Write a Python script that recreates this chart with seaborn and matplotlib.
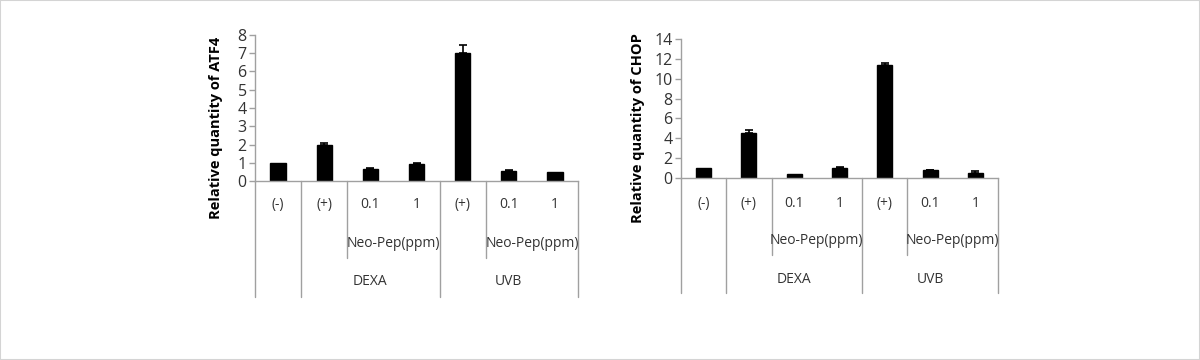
import numpy as np
import pandas as pd
import seaborn as sns
import matplotlib
matplotlib.use("Agg")
import matplotlib.pyplot as plt
import matplotlib.transforms as mtransforms
from matplotlib.patches import Rectangle

sns.set_style("white")
plt.rcParams['font.family'] = ['Open Sans', 'DejaVu Sans']

# ---- data ----
tick_labels = ["(-)", "(+)", "0.1", "1", "(+)", "0.1", "1"]
atf4_values = [1.0, 2.0, 0.65, 0.92, 7.0, 0.55, 0.48]
atf4_errors = [0.0, 0.1, 0.04, 0.07, 0.45, 0.05, 0.0]
chop_values = [1.0, 4.5, 0.4, 1.0, 11.4, 0.8, 0.5]
chop_errors = [0.0, 0.3, 0.0, 0.08, 0.15, 0.05, 0.2]
group_labels = ["DEXA", "UVB"]
group_centers = [2, 5]
sub_label = "Neo-Pep(ppm)"
sub_centers = [2.5, 5.5]
atf4_ylabel = "Relative quantity of ATF4"
chop_ylabel = "Relative quantity of CHOP"

fig = plt.figure(figsize=(12, 3.6), dpi=100)
fig.patch.set_facecolor("white")
fig.add_artist(Rectangle((0, 0), 1, 1, transform=fig.transFigure, fill=False,
                         edgecolor="#d4d4d4", linewidth=1.5))

gray = "#a0a0a0"
txt = "#333333"

def panel(rect, values, errors, ylabel, ymax, ystep, tick_y, sub_y, grp_y, full_y,
          short_y, label_xy):
    ax = fig.add_axes(rect)
    idx = list(range(len(values)))
    df = pd.DataFrame({"idx": idx, "val": values})
    sns.barplot(data=df, x="idx", y="val", color="black", width=0.33,
                saturation=1, ax=ax, errorbar=None, edgecolor="black")
    ei = [i for i, e in enumerate(errors) if e > 0]
    ax.errorbar([idx[i] for i in ei], [values[i] for i in ei],
                yerr=[np.zeros(len(ei)), [errors[i] for i in ei]], fmt="none",
                ecolor="black", elinewidth=1.2, capsize=3, capthick=1.2)
    ax.set_xlim(-0.5, len(values) - 0.5)
    ax.set_ylim(0, ymax)
    yt = np.arange(0, ymax + 0.01, ystep)
    ax.set_yticks(yt)
    ax.set_yticklabels([f"{int(v)}" for v in yt], fontsize=11.5, color=txt)
    ax.set_xticks([])
    ax.set_xlabel("")
    ax.set_ylabel(ylabel, fontsize=10.5, fontweight="bold", color="black")
    ax.yaxis.set_label_coords(*label_xy)
    for s in ["top", "right"]:
        ax.spines[s].set_visible(False)
    for s in ["left", "bottom"]:
        ax.spines[s].set_color(gray)
        ax.spines[s].set_linewidth(1)
    ax.tick_params(axis="y", length=4, color=gray, width=1, pad=2, left=True)
    trans = mtransforms.blended_transform_factory(ax.transData, ax.transAxes)
    for i, lab in enumerate(tick_labels):
        ax.text(i, tick_y, lab, transform=trans, ha="center", va="center",
                fontsize=10, color=txt)
    for c in sub_centers:
        ax.text(c, sub_y, sub_label, transform=trans, ha="center", va="center",
                fontsize=10, color=txt)
    for c, g in zip(group_centers, group_labels):
        ax.text(c, grp_y, g, transform=trans, ha="center", va="center",
                fontsize=10, color=txt)
    for b in [-0.5, 0.5, 3.5, 6.5]:
        ax.plot([b, b], [0, full_y], transform=trans, color=gray, lw=1, clip_on=False)
    for b in [1.5, 4.5]:
        ax.plot([b, b], [0, short_y], transform=trans, color=gray, lw=1, clip_on=False)
    return ax

panel([0.2125, 0.497, 0.2692, 0.406], atf4_values, atf4_errors, atf4_ylabel, 8, 1,
      -0.158, -0.425, -0.685, -0.795, -0.527, (-0.10, 0.363))
panel([0.5675, 0.5056, 0.2642, 0.3861], chop_values, chop_errors, chop_ylabel, 14, 2,
      -0.18, -0.453, -0.727, -0.827, -0.554, (-0.115, 0.36))

fig.savefig("out.png", dpi=100, facecolor="white")
